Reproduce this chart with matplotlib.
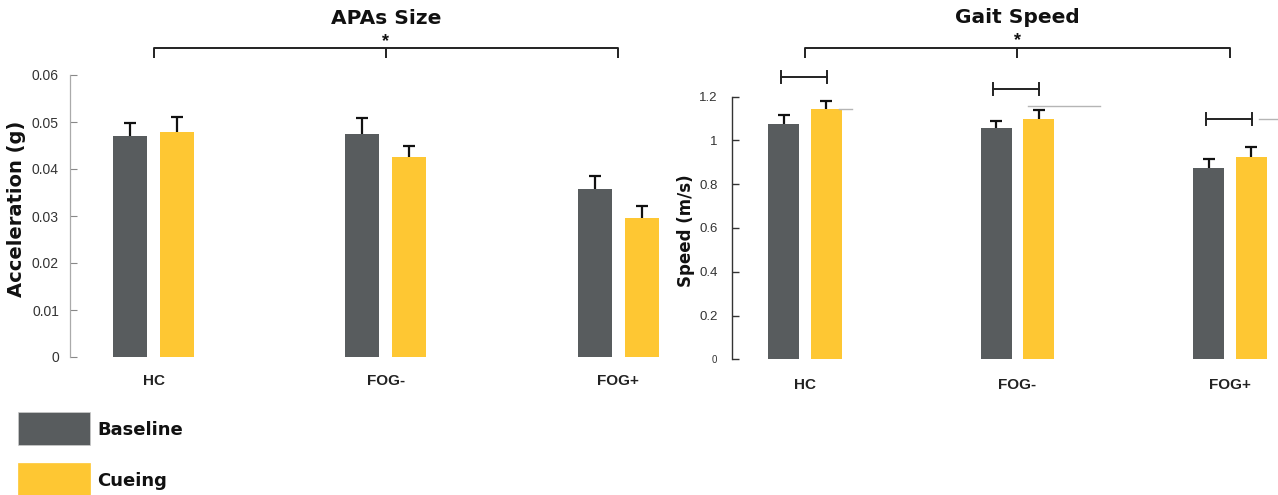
import numpy as np
import matplotlib
matplotlib.use("Agg")
import matplotlib.pyplot as plt
from matplotlib.patches import Rectangle

plt.rcParams['font.family'] = ['Liberation Sans', 'DejaVu Sans']

# ---- data ----
groups = ["HC", "FOG-", "FOG+"]
series = ["Baseline", "Cueing"]

apa_base = [0.0470, 0.0474, 0.0357]
apa_base_err = [0.0028, 0.0035, 0.0029]
apa_cue = [0.0478, 0.0426, 0.0296]
apa_cue_err = [0.0033, 0.0023, 0.0026]

speed_base = [1.077, 1.058, 0.874]
speed_base_err = [0.041, 0.031, 0.040]
speed_cue = [1.143, 1.100, 0.923]
speed_cue_err = [0.039, 0.040, 0.049]

apa_ticks = [0, 0.01, 0.02, 0.03, 0.04, 0.05, 0.06]
apa_ticklabels = ["0", "0.01", "0.02", "0.03", "0.04", "0.05", "0.06"]
speed_ticks = [0, 0.2, 0.4, 0.6, 0.8, 1.0, 1.2]
speed_ticklabels = ["0", "0.2", "0.4", "0.6", "0.8", "1", "1.2"]

C_BASE = "#585c5e"
C_CUE = "#fec733"
colors = [C_BASE, C_CUE]
W, H = 1278, 495

BOLD_WIDE = dict(family=["DejaVu Sans"], fontweight="bold", color="#111111")

fig = plt.figure(figsize=(W / 100, H / 100), dpi=100)


def px_axes(x0, x1, ytop, ybot):
    return fig.add_axes([x0 / W, 1 - ybot / H, (x1 - x0) / W, (ybot - ytop) / H])


def upper_errbar(ax, x, y, err):
    zeros = np.zeros(len(y))
    _, caps, _ = ax.errorbar(x, y, yerr=[zeros, err], fmt="none",
                             ecolor="#111111", elinewidth=1.6, capsize=4.5,
                             capthick=1.6, zorder=3)
    caps[0].set_visible(False)   # no cap sitting on the bar top


def bar_panel(ax, base, base_err, cue, cue_err, width, off):
    x = np.arange(len(groups))
    ax.bar(x - off, base, width, color=C_BASE, zorder=2)
    ax.bar(x + off, cue, width, color=C_CUE, zorder=2)
    upper_errbar(ax, x - off, base, base_err)
    upper_errbar(ax, x + off, cue, cue_err)
    for s in ["top", "right", "bottom"]:
        ax.spines[s].set_visible(False)
    ax.set_xticks(x)
    ax.set_xticklabels(groups, fontsize=11, fontweight="bold", color="#222222")
    ax.tick_params(axis="x", length=0)


def top_bracket(ax, y_line, y_end, y_star):
    kw = dict(color="#222222", lw=1.4, clip_on=False, solid_capstyle="butt")
    ax.plot([0, 0, 2, 2], [y_end, y_line, y_line, y_end], **kw)
    ax.plot([1, 1], [y_line, y_end], **kw)
    ax.text(1, y_star, "*", ha="center", va="center", fontsize=13,
            fontweight="bold", color="#111111", clip_on=False)


# ---- APAs size ----
ax1 = px_axes(70, 660, 75, 357)
bar_panel(ax1, apa_base, apa_base_err, apa_cue, apa_cue_err, 0.146, 0.101)
ax1.set_xlim(-0.36, 2.18)
ax1.set_ylim(0, 0.06)
ax1.set_yticks(apa_ticks)
ax1.set_yticklabels(apa_ticklabels, fontsize=10, color="#333333")
ax1.tick_params(axis="x", pad=12)
ax1.tick_params(axis="y", direction="in", length=5, width=0.8,
                color="#888888", pad=8)
ax1.spines["left"].set_color("#aaaaaa")
ax1.spines["left"].set_linewidth(0.9)
ax1.set_ylabel("Acceleration (g)", fontsize=14, **BOLD_WIDE)
ax1.yaxis.set_label_coords(-0.075, 0.525)
top_bracket(ax1, 0.06574, 0.0636, 0.0672)
ax1.text(1, 1.2, "APAs Size", transform=ax1.get_xaxis_transform(),
         ha="center", va="center", fontsize=14.5, **BOLD_WIDE)

# ---- gait speed ----
ax2 = px_axes(732, 1278, 96.7, 359.3)
bar_panel(ax2, speed_base, speed_base_err, speed_cue, speed_cue_err, 0.146, 0.101)
ax2.set_xlim(-0.3435, 2.226)
ax2.set_ylim(0, 1.2)
ax2.set_yticks(speed_ticks)
ax2.set_yticklabels(speed_ticklabels, fontsize=9.5, color="#333333")
ax2.get_yticklabels()[0].set_fontsize(7)
ax2.tick_params(axis="x", pad=13.4)
ax2.tick_params(axis="y", direction="in", length=5, width=1.0,
                color="#333333", pad=10.5)
ax2.spines["left"].set_color("#333333")
ax2.spines["left"].set_linewidth(1.0)
ax2.set_ylabel("Speed (m/s)", fontsize=12, **BOLD_WIDE)
ax2.yaxis.set_label_coords(-0.068, 0.489)
top_bracket(ax2, 1.4228, 1.377, 1.4548)
ax2.text(1, 1.30, "Gait Speed", transform=ax2.get_xaxis_transform(),
         ha="center", va="center", fontsize=14.5, **BOLD_WIDE)

# pairwise brackets between baseline and cueing
pair_y = [1.290, 1.235, 1.098]
for i, yy in enumerate(pair_y):
    xa, xb = i - 0.115, i + 0.102
    ax2.plot([xa, xb], [yy, yy], color="#222222", lw=1.4, clip_on=False)
    for xe in (xa, xb):
        ax2.plot([xe, xe], [yy - 0.027, yy + 0.027], color="#222222",
                 lw=1.4, clip_on=False)

# faint guide lines
guide_x = [(0.162, 0.22), (1.049, 1.388), (2.136, 2.226)]
guide_y = [1.143, 1.158, 1.098]
for (xa, xb), yy in zip(guide_x, guide_y):
    ax2.plot([xa, xb], [yy, yy], color="#b5b5b5", lw=1.0, clip_on=False)

# ---- legend (swatch + label, stacked) ----
for k, (name, col) in enumerate(zip(series, colors)):
    top = 412 + 51 * k
    fig.add_artist(Rectangle((18 / W, 1 - (top + 33) / H), 72 / W, 33 / H,
                             transform=fig.transFigure, facecolor=col,
                             edgecolor="#cccccc" if k == 0 else col, lw=0.5))
    fig.text(97 / W, 1 - (top + 18) / H, name, ha="left", va="center",
             fontsize=13, **BOLD_WIDE)

fig.savefig("out.png", dpi=100)
